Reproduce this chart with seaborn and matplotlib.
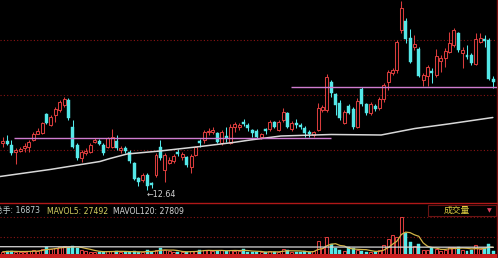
import numpy as np
import pandas as pd
import matplotlib
matplotlib.use("Agg")
import matplotlib.pyplot as plt
import seaborn as sns
from matplotlib.patches import Rectangle

# ---------------- data ----------------
opens = [13.58, 13.63, 13.54, 13.40, 13.42, 13.48, 13.51, 13.64, 13.77, 13.78,
         14.16, 13.94, 14.14, 14.24, 14.34, 14.44, 13.90, 13.54, 13.28, 13.38,
         13.40, 13.60, 13.62, 13.54, 13.50, 13.50, 13.62, 13.44, 13.48, 13.40,
         13.18, 12.88, 12.84, 12.94, 12.78, 12.94, 13.50, 13.04, 13.18, 13.22,
         13.40, 13.30, 13.30, 13.10, 13.34, 13.62, 13.64, 13.80, 13.80, 13.78,
         13.58, 13.72, 13.58, 13.90, 13.90, 14.00, 13.94, 13.83, 13.82, 13.70,
         13.86, 13.86, 14.00, 13.84, 14.04, 14.18, 13.86, 13.98, 13.94, 13.88,
         13.80, 13.74, 13.84, 14.24, 14.24, 14.80, 14.56, 14.38, 13.98, 14.32,
         14.26, 13.90, 14.66, 14.36, 14.18, 14.32, 14.28, 14.46, 14.80, 14.98,
         15.04, 15.84, 16.02, 15.68, 15.50, 15.46, 14.84, 14.92, 15.02, 14.94,
         15.22, 15.28, 15.40, 15.54, 15.78, 15.38, 15.34, 15.34, 15.16, 15.60,
         15.66, 15.64, 14.86]
highs = [13.70, 13.74, 13.64, 13.48, 13.50, 13.58, 13.64, 13.80, 13.88, 14.00,
         14.19, 14.14, 14.30, 14.44, 14.50, 14.48, 14.04, 13.58, 13.44, 13.48,
         13.58, 13.68, 13.66, 13.58, 13.70, 13.86, 13.74, 13.52, 13.52, 13.44,
         13.20, 12.90, 12.98, 12.98, 12.80, 13.38, 13.64, 13.38, 13.30, 13.36,
         13.46, 13.40, 13.32, 13.36, 13.52, 13.66, 13.84, 13.88, 13.90, 13.80,
         13.84, 13.90, 13.96, 14.00, 13.98, 14.06, 13.98, 13.86, 13.86, 13.78,
         13.88, 14.04, 14.02, 14.04, 14.28, 14.20, 14.02, 14.06, 13.98, 13.92,
         13.84, 13.82, 14.38, 14.34, 14.96, 14.84, 14.58, 14.44, 14.24, 14.36,
         14.30, 14.48, 14.70, 14.38, 14.40, 14.36, 14.50, 14.78, 15.04, 15.08,
         15.64, 16.42, 16.08, 15.86, 15.74, 15.50, 14.98, 15.14, 15.08, 15.46,
         15.34, 15.48, 15.80, 15.88, 15.80, 15.50, 15.54, 15.38, 15.78, 15.78,
         15.74, 15.68, 14.92]
lows = [13.50, 13.54, 13.34, 13.16, 13.40, 13.40, 13.40, 13.62, 13.76, 13.76,
        13.96, 13.92, 14.00, 14.20, 14.30, 14.04, 13.48, 13.24, 13.20, 13.34,
        13.38, 13.58, 13.54, 13.34, 13.48, 13.48, 13.44, 13.38, 13.38, 13.18,
        12.84, 12.72, 12.80, 12.64, 12.68, 12.90, 13.24, 12.80, 13.16, 13.18,
        13.32, 13.24, 13.10, 12.98, 13.32, 13.50, 13.58, 13.74, 13.76, 13.58,
        13.54, 13.60, 13.56, 13.80, 13.84, 13.92, 13.82, 13.70, 13.68, 13.66,
        13.76, 13.82, 13.88, 13.82, 14.00, 13.88, 13.82, 13.88, 13.86, 13.70,
        13.70, 13.70, 13.82, 14.20, 14.20, 14.50, 14.14, 14.04, 13.96, 14.16,
        13.86, 13.88, 14.32, 14.14, 14.14, 14.22, 14.24, 14.40, 14.64, 14.94,
        14.98, 15.78, 15.58, 15.18, 15.44, 14.90, 14.72, 14.72, 14.78, 14.90,
        15.00, 15.10, 15.38, 15.50, 15.40, 15.08, 15.26, 15.14, 15.14, 15.58,
        15.50, 14.84, 14.68]
closes = [13.62, 13.56, 13.39, 13.44, 13.46, 13.52, 13.61, 13.76, 13.81, 13.98,
          13.98, 14.10, 14.26, 14.40, 14.46, 14.08, 13.50, 13.28, 13.40, 13.42,
          13.54, 13.64, 13.56, 13.38, 13.68, 13.70, 13.48, 13.48, 13.42, 13.22,
          12.86, 12.80, 12.94, 12.72, 12.74, 13.34, 13.28, 13.34, 13.24, 13.32,
          13.36, 13.36, 13.14, 13.32, 13.50, 13.58, 13.80, 13.82, 13.84, 13.60,
          13.80, 13.68, 13.90, 13.96, 13.94, 13.96, 13.88, 13.79, 13.70, 13.76,
          13.82, 14.00, 13.90, 14.00, 14.20, 13.90, 13.98, 13.94, 13.90, 13.78,
          13.76, 13.80, 14.28, 14.30, 14.90, 14.58, 14.34, 14.08, 14.20, 14.18,
          13.90, 14.42, 14.36, 14.18, 14.36, 14.26, 14.46, 14.74, 15.00, 15.04,
          15.60, 16.28, 15.66, 15.20, 15.56, 14.92, 14.94, 15.10, 14.98, 15.32,
          15.28, 15.42, 15.58, 15.84, 15.44, 15.44, 15.30, 15.18, 15.66, 15.68,
          15.62, 14.86, 14.80]
volumes = [14200, 15500, 16800, 14800, 13500, 14200, 16800, 19500, 17500,
           23500, 27500, 22200, 26200, 28800, 30800, 27500,
           31500, 25500, 20800,
           15500, 14200, 14800, 13500, 14200, 16200, 15500, 16800, 14800, 12800, 13500,
           15500, 13500, 14200, 18200, 13500, 20800,
           26200,
           19500, 15500, 14200, 13500, 12800, 14800, 17500, 16200, 18800, 20800,
           18200, 15500, 16800, 19500, 16200, 20200, 17500, 15500, 22200,
           13500, 12800, 14200, 13500, 12800, 15500, 14200, 13500,
           22200, 20800,
           14200, 13500, 12800,
           15500, 14200, 16800,
           46200, 24800, 59500, 36800, 24800, 19500, 16800, 27500, 24800, 19500,
           15500, 14800, 14200, 13500, 19500,
           34200, 52200, 64200, 59500, 119500, 70200, 44800, 31500, 36800, 20800,
           19500, 26200, 23500, 16800, 20800, 28800, 29500, 27500, 20800, 16800, 19500,
           34000, 24000, 26000, 36587, 16873]

# long moving average (white line) read at a few bars
ma_idx = [-0.62, 10.8, 22.2, 24.5, 28.4, 35.9, 45.1, 52.6, 56.5, 63.5, 75.0, 86.4, 94.1, 101.7, 111.9]
ma_val = [12.91, 13.05, 13.21, 13.27, 13.36, 13.42, 13.51, 13.59, 13.64, 13.72, 13.75, 13.74, 13.87, 13.96, 14.09]

# MAVOL120 read at a few bars
mavol120_idx = [-0.62, 40, 80, 112]
mavol120_val = [29400, 28800, 28300, 27809]

# horizontal support / resistance lines: (price, start bar, end bar)
level_prices = [13.68, 14.70]
level_start = [2.6, 65.8]
level_end = [75.0, 113.2]

low_price = 12.64
price_grid = [13.45, 14.55, 15.64]
vol_grid = [60000, 120000]

header_vol = "总手: 16873"
header_ma5 = "MAVOL5: 27492"
header_ma120 = "MAVOL120: 27809"
panel_name = "成交量"

# ---------------- style ----------------
sns.set_theme(style="dark")
plt.rcParams["font.family"] = ["DejaVu Sans", "Noto Sans CJK SC"]

RED = "#d83c3c"
CYAN = "#54e8e8"
GRID = "#8a1414"
PINK = "#d07cd0"
WHITE = "#d8d8d8"
YELLOW = "#d2b446"

W, H = 498, 258
fig = plt.figure(figsize=(W / 100, H / 100), dpi=100, facecolor="black")

main_h = 203
ax = fig.add_axes([0, (H - main_h) / H, 497 / W, main_h / H])
axv = fig.add_axes([0, 0, 497 / W, (H - main_h) / H])

n = len(opens)
df = pd.DataFrame({"open": opens, "high": highs, "low": lows, "close": closes, "vol": volumes})
df["idx"] = np.arange(n)
df["up"] = df["close"] >= df["open"]

xmin, xmax = -0.616, 112.85
for a in (ax, axv):
    a.set_facecolor("black")
    a.set_xlim(xmin, xmax)
    a.set_xticks([])
    a.set_yticks([])
    a.grid(False)
    for s in ("top", "left", "bottom"):
        a.spines[s].set_visible(False)
    a.spines["right"].set_visible(True)
    a.spines["right"].set_color("#7a1010")
    a.spines["right"].set_linewidth(1.0)
axv.spines["top"].set_visible(True)
axv.spines["top"].set_color("#b01818")
axv.spines["top"].set_linewidth(1.0)

ax.set_ylim(12.38, 16.44)
axv.set_ylim(-4500, 160500)

# grid lines
for g in price_grid:
    ax.axhline(g, color=GRID, lw=0.8, ls=(0, (1, 2)), zorder=0)
for g in vol_grid:
    axv.axhline(g, color=GRID, lw=0.8, ls=(0, (1, 2)), zorder=0)

bw = 0.68
lw = 0.75
# candles
for _, r in df.iterrows():
    i = r["idx"]
    top = max(r["open"], r["close"])
    bot = min(r["open"], r["close"])
    if r["up"]:
        ax.vlines(i, top, r["high"], color=RED, lw=lw, zorder=2)
        ax.vlines(i, r["low"], bot, color=RED, lw=lw, zorder=2)
        ax.bar(i, max(top - bot, 0.004), bottom=bot, width=bw, facecolor="black",
               edgecolor=RED, linewidth=lw, zorder=3)
    else:
        ax.vlines(i, r["low"], r["high"], color=CYAN, lw=lw, zorder=2)
        ax.bar(i, max(top - bot, 0.012), bottom=bot, width=bw, facecolor=CYAN,
               edgecolor=CYAN, linewidth=0.3, zorder=3)

# long MA
sns.lineplot(x=ma_idx, y=ma_val, ax=ax, color=WHITE, lw=1.1, zorder=4, legend=False)

# support / resistance lines
for p, s, e in zip(level_prices, level_start, level_end):
    ax.hlines(p, s, e, color=PINK, lw=1.0, zorder=5)

# low marker
lo_i = int(np.argmin(lows))
ax.text(lo_i - 0.2, low_price, "←12.64", color="#d0d0d0", fontsize=5.8,
        ha="left", va="top", zorder=6)

# volume bars
for _, r in df.iterrows():
    i = r["idx"]
    if r["up"]:
        axv.bar(i, r["vol"], width=bw, facecolor="black", edgecolor=RED, linewidth=lw, zorder=2)
    else:
        axv.bar(i, r["vol"], width=bw, facecolor=CYAN, edgecolor=CYAN, linewidth=0.3, zorder=2)

mavol5 = df["vol"].rolling(5, min_periods=1).mean()
sns.lineplot(x=df["idx"], y=mavol5, ax=axv, color=YELLOW, lw=0.9, zorder=4, legend=False)
sns.lineplot(x=mavol120_idx, y=mavol120_val, ax=axv, color=WHITE, lw=0.9, zorder=4, legend=False)
axv.add_patch(Rectangle((0, 0), 1, 0.075, transform=axv.transAxes, facecolor="#c81e1e",
                        edgecolor="none", zorder=5))
axv.set_xlabel("")
axv.set_ylabel("")
ax.set_xlabel("")
ax.set_ylabel("")

# header texts
ty = 1 - 211 / H
fig.text(-5 / W, ty, header_vol, color="#c0cccc", fontsize=5.6, va="center", ha="left")
fig.text(47 / W, ty, header_ma5, color="#d6d060", fontsize=5.6, va="center", ha="left")
fig.text(113 / W, ty, header_ma120, color="#d4d4d4", fontsize=5.6, va="center", ha="left")

# panel name box
fig.patches.append(Rectangle((428 / W, 1 - 216 / H), 68 / W, 11 / H, transform=fig.transFigure,
                             facecolor="black", edgecolor="#6a1414", linewidth=0.8, zorder=6))
fig.text(457 / W, 1 - 210.5 / H, panel_name, color="#e0d040", fontsize=6.3, va="center",
         ha="center", family=["Noto Sans CJK SC", "DejaVu Sans"], zorder=7)
fig.text(489 / W, 1 - 210.5 / H, "▼", color="#e04060", fontsize=4.5, va="center",
         ha="center", zorder=7)

fig.savefig("out.png", dpi=100, facecolor="black")
